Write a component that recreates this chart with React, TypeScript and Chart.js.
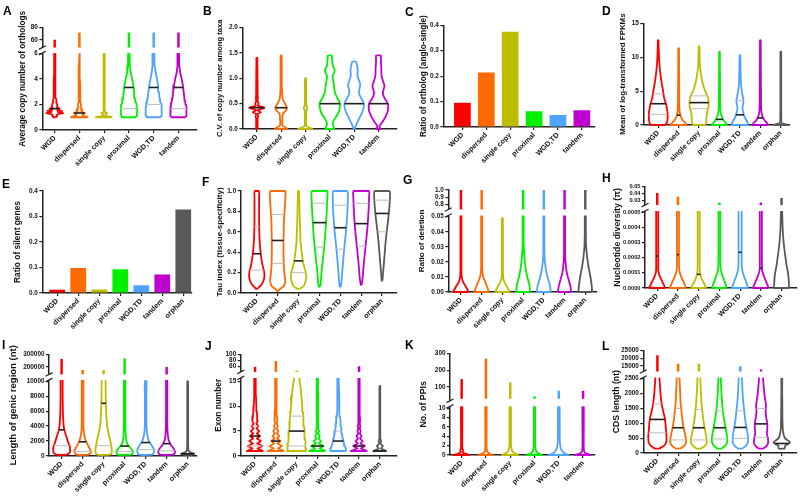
import React, { useEffect, useRef } from "react";
import { Chart, registerables } from "chart.js";

Chart.register(...registerables);

const FONT = "'Liberation Sans', Arial, Helvetica, sans-serif";
Chart.defaults.font.family = FONT;
Chart.defaults.color = "#111";

// ---------------- categories & colours ----------------
const CATEGORIES = ["WGD", "dispersed", "single copy", "proximal", "WGD,TD", "tandem", "orphan"];
const COLORS = ["#FF0000", "#FF6A00", "#BDBD00", "#00F000", "#4FA3FF", "#C000D0", "#595959"];

// ---------------- C: bar ----------------
const C_RATIO = [0.095, 0.214, 0.375, 0.062, 0.047, 0.066];
const C_TICKS = [0, 0.1, 0.2, 0.3, 0.4];

// ---------------- E: bar ----------------
const E_SILENT = [0.013, 0.098, 0.014, 0.093, 0.03, 0.073, 0.327];
const E_TICKS = [0, 0.1, 0.2, 0.3, 0.4];

// ---------------- A ----------------
const A_TICKS = [0, 2, 4, 6];
const A_TOP_TICKS = [60, 80];
const A_LEVELS = [1.0, 1.1, 1.17, 1.25, 1.33, 1.42, 1.5, 1.58, 1.67, 1.75, 1.83, 2.0, 2.17, 2.33, 2.5, 3.0, 3.5, 4.0, 4.5, 5.0, 6.22];
const A_WIDTHS = [
  [0.06, 0.1, 0.08, 0.15, 0.34, 0.12, 0.3, 0.1, 0.2, 0.08, 0.12, 0.1, 0.06, 0.07, 0.05, 0.04, 0.03, 0.03, 0.025, 0.02, 0.015],
  [0.34, 0.15, 0.12, 0.18, 0.22, 0.08, 0.12, 0.06, 0.1, 0.05, 0.05, 0.07, 0.04, 0.05, 0.035, 0.03, 0.025, 0.02, 0.02, 0.02, 0.015],
  [0.33, 0.04, 0.04, 0.05, 0.12, 0.03, 0.03, 0.025, 0.03, 0.02, 0.02, 0.025, 0.02, 0.02, 0.02, 0.02, 0.02, 0.02, 0.02, 0.02, 0.015],
  [0.28, 0.31, 0.32, 0.32, 0.33, 0.33, 0.33, 0.33, 0.32, 0.32, 0.31, 0.3, 0.28, 0.26, 0.24, 0.21, 0.18, 0.13, 0.07, 0.04, 0.03],
  [0.28, 0.31, 0.32, 0.32, 0.33, 0.33, 0.33, 0.33, 0.32, 0.32, 0.31, 0.3, 0.28, 0.26, 0.24, 0.21, 0.18, 0.13, 0.08, 0.05, 0.03],
  [0.28, 0.31, 0.32, 0.32, 0.33, 0.33, 0.33, 0.33, 0.32, 0.32, 0.31, 0.3, 0.28, 0.26, 0.24, 0.21, 0.18, 0.13, 0.07, 0.04, 0.03],
];
const A_MEDIAN = [1.67, 1.33, null, 3.33, 3.33, 3.33];
const A_Q1 = [null, null, null, 1.67, 2.0, 1.67];
const A_Q3 = [null, null, null, null, null, null];
const A_TOP = [[42, 60], [42, 72], null, [42, 72], [42, 72], [42, 72]];

// ---------------- B ----------------
const B_TICKS = [0, 0.5, 1, 1.5, 2];
const B_LEVELS = [0, 0.03, 0.06, 0.1, 0.15, 0.2, 0.25, 0.3, 0.33, 0.37, 0.42, 0.46, 0.5, 0.55, 0.6, 0.7, 0.8, 0.85, 0.9, 1.0, 1.05, 1.1, 1.17, 1.25, 1.33, 1.4, 1.45];
const B_WIDTHS = [
  [0.03, 0.03, 0.03, 0.03, 0.03, 0.03, 0.05, 0.03, 0.17, 0.03, 0.32, 0.04, 0.07, 0.03, 0.04, 0.03, 0.03, 0.03, 0.03, 0.025, 0.025, 0.025, 0.025, 0.02, 0.02, 0.02, null],
  [0.26, 0.18, 0.06, 0.04, 0.04, 0.05, 0.05, 0.07, 0.12, 0.2, 0.24, 0.2, 0.16, 0.1, 0.06, 0.04, 0.03, 0.025, 0.025, 0.025, 0.025, 0.025, 0.025, 0.025, 0.025, 0.025, 0.02],
  [0.3, 0.15, 0.04, 0.025, 0.025, 0.025, 0.025, 0.025, 0.025, 0.04, 0.07, 0.04, 0.025, 0.025, 0.025, 0.025, 0.025, 0.025, 0.025, 0.02, null, null, null, null, null, null, null],
  [0.18, 0.17, 0.14, 0.12, 0.14, 0.2, 0.27, 0.33, 0.36, 0.39, 0.41, 0.42, 0.42, 0.38, 0.32, 0.22, 0.18, 0.17, 0.16, 0.12, 0.12, 0.17, 0.2, 0.12, 0.1, 0.09, 0.08],
  [0.02, 0.04, 0.07, 0.1, 0.15, 0.2, 0.25, 0.3, 0.33, 0.36, 0.39, 0.4, 0.4, 0.36, 0.3, 0.2, 0.22, 0.25, 0.24, 0.17, 0.14, 0.14, 0.15, 0.12, 0.08, null, null],
  [0.1, 0.05, 0.05, 0.1, 0.18, 0.24, 0.3, 0.34, 0.37, 0.39, 0.4, 0.4, 0.39, 0.33, 0.26, 0.18, 0.22, 0.25, 0.22, 0.15, 0.13, 0.12, 0.12, 0.11, 0.1, 0.1, 0.1],
];
const B_MEDIAN = [0.42, 0.42, null, 0.5, 0.5, 0.5];
const B_Q1 = [null, null, null, null, null, null];
const B_Q3 = [null, null, null, null, null, null];

// ---------------- D ----------------
const D_TICKS = [0, 5, 10, 15];
const D_LEVELS = [0, 0.3, 0.7, 1.0, 1.5, 2, 2.5, 3, 3.5, 4, 4.5, 5, 5.5, 6, 7, 8, 9, 10, 10.3, 10.8, 11.3, 11.6, 12.5];
const D_WIDTHS = [
  [0.35, 0.42, 0.45, 0.46, 0.46, 0.45, 0.42, 0.39, 0.34, 0.29, 0.26, 0.24, 0.21, 0.18, 0.13, 0.09, 0.06, 0.04, 0.035, 0.03, 0.025, 0.02, 0.015],
  [0.38, 0.33, 0.2, 0.14, 0.08, 0.05, 0.04, 0.035, 0.03, 0.03, 0.03, 0.03, 0.025, 0.025, 0.025, 0.02, 0.02, 0.02, 0.02, 0.02, 0.015, null, null],
  [0.3, 0.34, 0.36, 0.36, 0.37, 0.4, 0.45, 0.47, 0.47, 0.44, 0.38, 0.3, 0.24, 0.19, 0.12, 0.07, 0.04, 0.03, 0.03, 0.025, 0.02, 0.015, null],
  [0.37, 0.3, 0.2, 0.15, 0.08, 0.05, 0.04, 0.035, 0.03, 0.03, 0.03, 0.03, 0.025, 0.025, 0.025, 0.02, 0.02, 0.02, 0.02, 0.015, null, null, null],
  [0.38, 0.38, 0.32, 0.25, 0.2, 0.15, 0.12, 0.15, 0.17, 0.15, 0.12, 0.09, 0.07, 0.05, 0.04, 0.03, 0.025, 0.02, 0.015, null, null, null, null],
  [0.38, 0.32, 0.2, 0.14, 0.08, 0.05, 0.04, 0.035, 0.03, 0.03, 0.03, 0.03, 0.03, 0.025, 0.025, 0.025, 0.02, 0.02, 0.02, 0.02, 0.02, 0.02, 0.015],
  [0.35, 0.04, 0.025, 0.025, 0.025, 0.02, 0.02, 0.02, 0.02, 0.02, 0.02, 0.02, 0.02, 0.02, 0.02, 0.02, 0.02, 0.02, 0.02, 0.015, null, null, null],
];
const D_MEDIAN = [3.14, 1.45, 3.3, 0.83, 1.5, 1.05, null];
const D_Q1 = [1.58, null, 2.4, null, null, null, null];
const D_Q3 = [4.6, null, 4.3, null, 3.6, null, null];

// ---------------- F ----------------
const F_TICKS = [0, 0.2, 0.4, 0.6, 0.8, 1.0];
const F_LEVELS = [0.02, 0.04, 0.06, 0.08, 0.12, 0.15, 0.2, 0.25, 0.3, 0.4, 0.5, 0.6, 0.7, 0.8, 0.9, 0.95, 1.0];
const F_WIDTHS = [
  [null, 0.02, 0.12, 0.22, 0.32, 0.36, 0.36, 0.3, 0.25, 0.18, 0.14, 0.12, 0.11, 0.11, 0.11, 0.11, 0.1],
  [0.02, 0.12, 0.25, 0.32, 0.36, 0.35, 0.32, 0.3, 0.29, 0.28, 0.28, 0.29, 0.3, 0.33, 0.36, 0.37, 0.35],
  [null, 0.04, 0.2, 0.28, 0.34, 0.37, 0.35, 0.28, 0.22, 0.15, 0.1, 0.08, 0.06, 0.05, 0.04, 0.03, 0.02],
  [null, null, 0.02, 0.05, 0.07, 0.08, 0.1, 0.12, 0.15, 0.2, 0.25, 0.29, 0.32, 0.35, 0.37, 0.38, 0.36],
  [null, null, 0.02, 0.04, 0.06, 0.07, 0.09, 0.11, 0.13, 0.17, 0.22, 0.27, 0.31, 0.34, 0.36, 0.36, 0.33],
  [null, null, null, 0.02, 0.05, 0.07, 0.09, 0.11, 0.13, 0.18, 0.23, 0.28, 0.32, 0.35, 0.37, 0.38, 0.36],
  [null, null, null, null, 0.02, 0.03, 0.05, 0.07, 0.09, 0.13, 0.17, 0.22, 0.28, 0.33, 0.37, 0.38, 0.35],
];
const F_MEDIAN = [0.385, 0.515, 0.315, 0.69, 0.64, 0.68, 0.78];
const F_Q1 = [0.225, 0.29, 0.2, 0.45, 0.43, 0.46, 0.6];
const F_Q3 = [0.65, 0.77, 0.52, 0.88, 0.86, 0.88, 0.91];

// ---------------- G ----------------
const G_TICKS = [0, 0.01, 0.02, 0.03, 0.04, 0.05];
const G_TOP_TICKS = [0.8, 0.9, 1.0];
const G_LEVELS = [0, 0.002, 0.004, 0.006, 0.008, 0.01, 0.012, 0.015, 0.018, 0.02, 0.023, 0.027, 0.03, 0.035, 0.04, 0.049, 0.0528];
const G_WIDTHS = [
  [0.36, 0.3, 0.22, 0.13, 0.07, 0.04, 0.03, 0.025, 0.025, 0.025, 0.025, 0.025, 0.025, 0.025, 0.025, 0.025, 0.02],
  [0.34, 0.3, 0.25, 0.19, 0.13, 0.08, 0.05, 0.03, 0.025, 0.025, 0.025, 0.025, 0.025, 0.025, 0.025, 0.025, 0.02],
  [0.34, 0.28, 0.2, 0.12, 0.06, 0.04, 0.03, 0.025, 0.025, 0.025, 0.025, 0.025, 0.025, 0.025, 0.025, 0.02, null],
  [0.32, 0.32, 0.31, 0.28, 0.24, 0.2, 0.17, 0.13, 0.1, 0.08, 0.06, 0.04, 0.03, 0.025, 0.025, 0.025, 0.02],
  [0.32, 0.32, 0.3, 0.26, 0.22, 0.18, 0.14, 0.1, 0.07, 0.05, 0.035, 0.025, 0.025, 0.025, 0.025, 0.025, 0.02],
  [0.3, 0.3, 0.28, 0.24, 0.2, 0.16, 0.12, 0.08, 0.06, 0.045, 0.03, 0.025, 0.025, 0.025, 0.025, 0.025, 0.02],
  [0.32, 0.32, 0.31, 0.29, 0.27, 0.25, 0.22, 0.18, 0.14, 0.12, 0.09, 0.06, 0.04, 0.03, 0.025, 0.025, 0.02],
];
const G_NONE = [null, null, null, null, null, null, null];
const G_TOP = [[0.72, 1], [0.72, 1], null, [0.72, 1], [0.72, 1], [0.72, 1], [0.72, 1]];

// ---------------- H ----------------
const H_TICKS = [0, 0.0001, 0.0002, 0.0003, 0.0004, 0.0005];
const H_TOP_TICKS = [0.03, 0.04, 0.05];
const H_LEVELS = [0, 0.00002, 0.00004, 0.00006, 0.00008, 0.0001, 0.00012, 0.00015, 0.0002, 0.00025, 0.0003, 0.00035, 0.0004, 0.00045, 0.0005, 0.000526];
const H_WIDTHS = [
  [0.38, 0.32, 0.25, 0.18, 0.12, 0.07, 0.05, 0.05, 0.05, 0.05, 0.05, 0.05, 0.05, 0.05, 0.05, 0.05],
  [0.38, 0.33, 0.27, 0.2, 0.14, 0.09, 0.06, 0.05, 0.05, 0.05, 0.05, 0.05, 0.05, 0.05, 0.05, 0.05],
  [0.36, 0.3, 0.22, 0.15, 0.1, 0.07, 0.055, 0.05, 0.05, 0.05, 0.05, 0.05, 0.05, 0.05, 0.05, 0.05],
  [0.34, 0.31, 0.26, 0.2, 0.15, 0.1, 0.07, 0.05, 0.045, 0.045, 0.045, 0.045, 0.045, 0.045, 0.045, 0.045],
  [0.37, 0.34, 0.29, 0.24, 0.18, 0.13, 0.1, 0.08, 0.075, 0.075, 0.075, 0.075, 0.075, 0.075, 0.075, 0.075],
  [0.36, 0.32, 0.26, 0.2, 0.14, 0.09, 0.06, 0.05, 0.05, 0.05, 0.05, 0.05, 0.05, 0.05, 0.05, 0.05],
  [0.36, 0.36, 0.35, 0.34, 0.33, 0.31, 0.28, 0.24, 0.19, 0.14, 0.1, 0.07, 0.05, 0.04, 0.03, 0.03],
];
const H_MEDIAN = [0.00021, 0.00022, 0.00009, null, 0.000235, 0.00013, null];
const H_NONE = [null, null, null, null, null, null, null];
const H_TOP = [[0.02, 0.041], [0.02, 0.036], null, [0.02, 0.0275], null, [0.02, 0.0275], [0.02, 0.034]];

// ---------------- I ----------------
const I_TICKS = [0, 2000, 4000, 6000, 8000, 10000];
const I_TOP_TICKS = [200000, 300000];
const I_LEVELS = [0, 150, 300, 500, 700, 1000, 1200, 1400, 1700, 2000, 2500, 3000, 3500, 4000, 5000, 6000, 7000, 8000, 10000, 10507];
const I_WIDTHS = [
  [null, 0.2, 0.33, 0.39, 0.4, 0.4, 0.39, 0.37, 0.33, 0.29, 0.24, 0.18, 0.13, 0.1, 0.075, 0.06, 0.055, 0.05, 0.05, 0.05],
  [null, 0.22, 0.35, 0.39, 0.38, 0.34, 0.3, 0.26, 0.21, 0.16, 0.1, 0.07, 0.05, 0.04, 0.04, 0.04, 0.04, 0.04, 0.04, 0.04],
  [null, 0.25, 0.36, 0.39, 0.39, 0.38, 0.37, 0.36, 0.34, 0.32, 0.28, 0.24, 0.2, 0.17, 0.14, 0.12, 0.11, 0.1, 0.09, 0.09],
  [null, 0.25, 0.37, 0.39, 0.37, 0.3, 0.24, 0.18, 0.12, 0.09, 0.06, 0.05, 0.04, 0.04, 0.035, 0.035, 0.035, 0.035, 0.035, 0.035],
  [null, 0.25, 0.36, 0.39, 0.4, 0.38, 0.34, 0.29, 0.22, 0.16, 0.1, 0.07, 0.05, 0.04, 0.035, 0.035, 0.035, 0.035, 0.035, null],
  [null, 0.25, 0.37, 0.4, 0.38, 0.33, 0.28, 0.22, 0.16, 0.11, 0.07, 0.05, 0.04, 0.035, 0.03, 0.03, 0.03, 0.03, 0.03, 0.03],
  [null, 0.15, 0.32, 0.12, 0.05, 0.03, 0.025, 0.025, 0.02, 0.02, 0.02, 0.02, 0.02, 0.02, 0.02, 0.02, 0.02, 0.02, 0.015, null],
];
const I_MEDIAN = [3500, 1900, 7050, 1330, 1800, 1650, 300];
const I_Q1 = [1380, 600, 1380, 620, 850, 680, null];
const I_Q3 = [null, null, null, null, null, null, null];
const I_TOP = [[115000, 265000], [115000, 175000], [115000, 175000], [115000, 270000], null, [115000, 200000], null];

// ---------------- J ----------------
const J_TICKS = [0, 5, 10, 15];
const J_TOP_TICKS = [60, 80, 100];
const J_LEVELS = [1, 1.5, 2, 2.5, 3, 3.5, 4, 4.5, 5, 5.5, 6, 6.5, 7, 8, 9, 10, 12, 14, 16.26];
const J_WIDTHS = [
  [0.4, 0.12, 0.34, 0.1, 0.28, 0.09, 0.24, 0.08, 0.2, 0.07, 0.16, 0.06, 0.13, 0.1, 0.08, 0.06, 0.045, 0.035, 0.03],
  [0.4, 0.1, 0.3, 0.08, 0.22, 0.06, 0.16, 0.05, 0.12, 0.045, 0.09, 0.04, 0.07, 0.055, 0.045, 0.04, 0.035, 0.03, 0.03],
  [0.46, 0.44, 0.43, 0.42, 0.41, 0.4, 0.39, 0.38, 0.37, 0.36, 0.35, 0.34, 0.33, 0.31, 0.29, 0.27, 0.23, 0.18, 0.1],
  [0.4, 0.1, 0.3, 0.07, 0.18, 0.05, 0.11, 0.04, 0.08, 0.035, 0.06, 0.03, 0.045, 0.035, 0.03, 0.03, 0.03, 0.025, 0.025],
  [0.38, 0.36, 0.32, 0.28, 0.25, 0.22, 0.2, 0.18, 0.16, 0.14, 0.12, 0.11, 0.1, 0.08, 0.06, 0.05, 0.04, 0.03, 0.025],
  [0.4, 0.08, 0.28, 0.06, 0.17, 0.05, 0.12, 0.04, 0.08, 0.035, 0.06, 0.03, 0.05, 0.04, 0.035, 0.03, 0.03, 0.025, 0.025],
  [0.32, 0.05, 0.15, 0.03, 0.06, 0.02, 0.03, 0.02, 0.02, 0.02, 0.02, 0.02, 0.02, 0.02, 0.02, 0.02, 0.02, 0.015, null],
];
const J_MEDIAN = [4, 3, 5, 2, 3, 2, 1];
const J_Q1 = [2, null, 2, null, null, null, null];
const J_Q3 = [6, null, 8, null, 5, null, null];
const J_TOP = [[30, 58], [30, 78], [30, 45], null, null, [30, 60], null];

// ---------------- K ----------------
const K_TICKS = [0, 2, 4, 6, 8, 10];
const K_TOP_TICKS = [100, 200, 300];
const K_LEVELS = [0, 0.2, 0.4, 0.6, 0.8, 1.0, 1.2, 1.5, 2, 3, 10.93];
const K_WIDTHS = [
  [0.34, 0.2, 0.08, 0.04, 0.05, 0.06, 0.04, 0.03, 0.025, 0.025, 0.025],
  [0.3, 0.2, 0.12, 0.07, 0.05, 0.04, 0.035, 0.03, 0.025, 0.025, 0.025],
  [0.34, 0.25, 0.17, 0.12, 0.09, 0.07, 0.06, 0.045, 0.035, 0.03, 0.025],
  [0.33, 0.22, 0.14, 0.1, 0.07, 0.06, 0.05, 0.04, 0.03, 0.025, 0.02],
  [0.42, 0.3, 0.22, 0.18, 0.15, 0.12, 0.1, 0.08, 0.06, 0.04, 0.03],
  [0.34, 0.2, 0.1, 0.06, 0.045, 0.035, 0.03, 0.025, 0.025, 0.025, 0.025],
];
const K_NONE = [null, null, null, null, null, null];
const K_TOP = [[30, 148], [30, 270], [30, 128], [30, 45], [30, 78], [30, 78]];

// ---------------- L ----------------
const L_TICKS = [0, 500, 1000, 1500, 2000, 2500];
const L_TOP_TICKS = [15000, 20000, 25000];
const L_LEVELS = [150, 250, 350, 500, 650, 800, 1000, 1200, 1400, 1600, 1800, 2000, 2300, 2500, 2641];
const L_WIDTHS = [
  [0.1, 0.33, 0.42, 0.44, 0.43, 0.41, 0.39, 0.35, 0.28, 0.22, 0.18, 0.15, 0.12, 0.1, 0.09],
  [0.1, 0.3, 0.38, 0.37, 0.33, 0.28, 0.23, 0.19, 0.16, 0.13, 0.11, 0.1, 0.08, 0.07, 0.07],
  [0.1, 0.3, 0.38, 0.37, 0.33, 0.29, 0.24, 0.2, 0.17, 0.14, 0.12, 0.1, 0.08, 0.07, 0.07],
  [0.1, 0.28, 0.36, 0.37, 0.34, 0.3, 0.25, 0.2, 0.16, 0.13, 0.11, 0.09, 0.07, 0.06, 0.06],
  [0.1, 0.28, 0.36, 0.37, 0.35, 0.31, 0.26, 0.22, 0.19, 0.16, 0.13, 0.11, 0.09, 0.08, 0.08],
  [0.1, 0.28, 0.34, 0.33, 0.28, 0.3, 0.3, 0.25, 0.22, 0.24, 0.2, 0.16, 0.12, 0.1, 0.1],
  [0.15, 0.17, 0.4, 0.15, 0.08, 0.05, 0.04, 0.03, 0.03, 0.025, 0.025, 0.02, 0.02, 0.02, null],
];
const L_MEDIAN = [1130, 850, 850, 850, 860, 980, 320];
const L_Q1 = [680, 440, 440, 470, 490, 530, null];
const L_Q3 = [1650, 1500, 1460, 1420, 1420, 1500, null];
const L_TOP = [[9600, 21800], [9600, 16500], [9600, 16500], null, [9600, 14800], [9600, 12800], null];

// ---------------- layout of the 12 panels ----------------
const PANELS: any[] = [
  { letter: "A", lx: 3, ly: 15, cell: [0, 0], axisX: 42.3, top: 27.7, bottom: 129.7, right: 197, titleCX: 23, title: "Average copy number of orthologs", titleSize: 8.2, n: 6, xr: [-0.5, 5.75],
    y: { min: 0, max: 6.22, ticks: A_TICKS, dec: 0 }, brk: { at: 50.5, min: 42, max: 80, ticks: A_TOP_TICKS, dec: 0, above: 3, below: 2.5 },
    violin: { levels: A_LEVELS, widths: A_WIDTHS, median: A_MEDIAN, q1: A_Q1, q3: A_Q3, top: A_TOP, tension: 0 } },
  { letter: "B", lx: 203, ly: 15, cell: [200, 0], axisX: 242.3, top: 27.7, bottom: 129, right: 396.7, titleCX: 220, title: "C.V. of copy number among taxa", titleSize: 7.6, n: 6, xr: [-0.6, 5.75],
    y: { min: 0, max: 2, ticks: B_TICKS, dec: 1 },
    violin: { levels: B_LEVELS, widths: B_WIDTHS, median: B_MEDIAN, q1: B_Q1, q3: B_Q3, tension: 0.15 } },
  { letter: "C", lx: 405, ly: 16, cell: [400, 0], axisX: 443.3, top: 25.3, bottom: 127, right: 595, titleCX: 424, title: "Ratio of ortholog (anglo-single)", titleSize: 8.2, n: 6, xr: [-0.8, 5.55],
    y: { min: 0, max: 0.4, ticks: C_TICKS, dec: 1 }, bars: { values: C_RATIO, pct: 0.7 } },
  { letter: "D", lx: 602, ly: 15, cell: [600, 0], axisX: 643.3, top: 23.3, bottom: 125, right: 790, titleCX: 623.3, title: "Mean of log-transformed FPKMs", titleSize: 7.9, n: 7, xr: [-0.73, 6.45],
    y: { min: 0, max: 15, ticks: D_TICKS, dec: 0 },
    violin: { levels: D_LEVELS, widths: D_WIDTHS, median: D_MEDIAN, q1: D_Q1, q3: D_Q3, tension: 0.3 } },
  { letter: "E", lx: 2, ly: 188, cell: [0, 166], axisX: 42.3, top: 191, bottom: 292.7, right: 191.7, titleCX: 17.3, title: "Ratio of silent genes", titleSize: 8.4, n: 7, xr: [-0.71, 6.4],
    y: { min: 0, max: 0.4, ticks: E_TICKS, dec: 1 }, bars: { values: E_SILENT, pct: 0.75 } },
  { letter: "F", lx: 202, ly: 186, cell: [200, 166], axisX: 240.7, top: 191, bottom: 292.7, right: 396.7, titleCX: 220, title: "Tau index (tissue-specificity)", titleSize: 8, n: 7, xr: [-0.77, 6.7],
    y: { min: 0, max: 1, ticks: F_TICKS, dec: 1 },
    violin: { levels: F_LEVELS, widths: F_WIDTHS, median: F_MEDIAN, q1: F_Q1, q3: F_Q3, tension: 0.3 } },
  { letter: "G", lx: 403, ly: 184, cell: [400, 166], axisX: 448.3, top: 190, bottom: 292, right: 596.7, titleCX: 421.7, title: "Ratio of deletion", titleSize: 8, n: 7, xr: [-0.61, 6.55],
    y: { min: 0, max: 0.0528, ticks: G_TICKS, dec: 2 }, brk: { at: 212.5, min: 0.694, max: 1.0, ticks: G_TOP_TICKS, dec: 1, above: 3, below: 3 },
    violin: { levels: G_LEVELS, widths: G_WIDTHS, median: G_NONE, q1: G_NONE, q3: G_NONE, top: G_TOP, tension: 0.3 } },
  { letter: "H", lx: 602, ly: 182, cell: [600, 166], axisX: 645, top: 186.7, bottom: 287.7, right: 796.7, titleCX: 617.3, title: "Nucleotide diversity (π)", titleSize: 8.8, n: 7, xr: [-0.59, 6.73], tickSize: 5.7,
    y: { min: 0, max: 0.000526, ticks: H_TICKS, dec: 4 }, brk: { at: 208, min: 0.0196, max: 0.05, ticks: H_TOP_TICKS, dec: 2, above: 3, below: 3 },
    violin: { levels: H_LEVELS, widths: H_WIDTHS, median: H_MEDIAN, q1: H_NONE, q3: H_NONE, top: H_TOP, tension: 0.3 } },
  { letter: "I", lx: 2, ly: 349, cell: [0, 332], axisX: 49, top: 354.7, bottom: 456.3, right: 196.7, titleCX: 13.3, title: "Length of genic region (nt)", titleSize: 9.5, n: 7, xr: [-0.6, 6.43],
    y: { min: 0, max: 10507, ticks: I_TICKS, dec: 0 }, brk: { at: 377.5, min: 115000, max: 300000, ticks: I_TOP_TICKS, dec: 0, above: 3, below: 2.5 },
    violin: { levels: I_LEVELS, widths: I_WIDTHS, median: I_MEDIAN, q1: I_Q1, q3: I_Q3, top: I_TOP, tension: 0.3 } },
  { letter: "J", lx: 205, ly: 350, cell: [200, 332], axisX: 240.7, top: 354.7, bottom: 456.3, right: 396.7, titleCX: 218.3, title: "Exon number", titleSize: 8.3, n: 7, xr: [-0.69, 6.81],
    y: { min: 0, max: 16.26, ticks: J_TICKS, dec: 0 }, brk: { at: 375, min: 30, max: 100, ticks: J_TOP_TICKS, dec: 0, above: 3, below: 3 },
    violin: { levels: J_LEVELS, widths: J_WIDTHS, median: J_MEDIAN, q1: J_Q1, q3: J_Q3, top: J_TOP, tension: 0 } },
  { letter: "K", lx: 405, ly: 349, cell: [400, 332], axisX: 450, top: 353.7, bottom: 454.7, right: 595, titleCX: 423.3, title: "No. of PPIs", titleSize: 8.8, n: 6, xr: [-0.48, 5.49],
    y: { min: 0, max: 10.93, ticks: K_TICKS, dec: 0 }, brk: { at: 403.65, min: 0, max: 300, ticks: K_TOP_TICKS, dec: 0, above: 3, below: 2.5 },
    violin: { levels: K_LEVELS, widths: K_WIDTHS, median: K_NONE, q1: K_NONE, q3: K_NONE, top: K_TOP, tension: 0.2 } },
  { letter: "L", lx: 602, ly: 350, cell: [600, 332], axisX: 643.3, top: 350.3, bottom: 453, right: 796.7, titleCX: 616.7, title: "CDS length (nt)", titleSize: 8.7, n: 7, xr: [-0.68, 6.72],
    y: { min: 0, max: 2641, ticks: L_TICKS, dec: 0 }, brk: { at: 374.5, min: 9586, max: 25000, ticks: L_TOP_TICKS, dec: 0, above: 3, below: 3 },
    violin: { levels: L_LEVELS, widths: L_WIDTHS, median: L_MEDIAN, q1: L_Q1, q3: L_Q3, top: L_TOP, tension: 0.3 } },
];

const X_AXIS_H = 50;
const AXIS_COLOR = "#222";
const CANVAS_W = 200;
const VIOLIN_LW = 1.8;

function widthAt(levels: number[], w: (number | null)[], y: number): number {
  for (let k = 0; k < levels.length - 1; k++) {
    const a = w[k];
    const b = w[k + 1];
    if (a == null || b == null) continue;
    if (y >= levels[k] && y <= levels[k + 1]) {
      const t = (y - levels[k]) / (levels[k + 1] - levels[k]);
      return a + (b - a) * t;
    }
  }
  return 0;
}

function outline(levels: number[], w: (number | null)[], i: number) {
  const ks = levels.map((_, k) => k).filter((k) => w[k] != null);
  const right = ks.map((k) => ({ x: i + (w[k] as number), y: levels[k] }));
  const left = ks.slice().reverse().map((k) => ({ x: i - (w[k] as number), y: levels[k] }));
  return [...right, ...left, right[0]];
}

function lineDs(data: any[], color: string, width: number, axis: string, tension: number, order: number) {
  return {
    type: "line",
    data,
    borderColor: color,
    borderWidth: width,
    pointRadius: 0,
    pointHoverRadius: 0,
    fill: false,
    tension,
    yAxisID: axis,
    xAxisID: "x",
    order,
    clip: false,
    borderJoinStyle: "round",
  };
}

const breakPlugin = {
  id: "axisBreak",
  afterDatasetsDraw(chart: any, _args: any, opts: any) {
    if (!opts || !opts.on) return;
    const ca = chart.chartArea;
    const B = chart.scales.y.top;
    const ctx = chart.ctx;
    ctx.save();
    ctx.fillStyle = "#ffffff";
    ctx.fillRect(ca.left - 5, B - opts.above, ca.right - ca.left + 7, opts.above + opts.below);
    ctx.strokeStyle = AXIS_COLOR;
    ctx.lineWidth = 1.2;
    [B - opts.above, B + opts.below].forEach((yy: number) => {
      ctx.beginPath();
      ctx.moveTo(ca.left - 3.5, yy + 1.8);
      ctx.lineTo(ca.left + 3.5, yy - 1.8);
      ctx.stroke();
    });
    ctx.restore();
  },
};

function valueAxis(a: any, tickSize: number, dataW: number, extra: any) {
  return {
    type: "linear",
    position: "left",
    min: a.min,
    max: a.max,
    afterBuildTicks: (s: any) => {
      s.ticks = a.ticks.map((value: number) => ({ value }));
    },
    afterFit: (s: any) => {
      s.width = dataW;
    },
    ticks: {
      autoSkip: false,
      padding: 1.5,
      font: { size: tickSize, weight: "bold" },
      color: "#111",
      callback: (v: any) => Number(v).toFixed(a.dec),
    },
    grid: { display: true, drawOnChartArea: false, drawTicks: true, tickLength: 3, color: AXIS_COLOR, lineWidth: 1.2 },
    border: { display: true, color: AXIS_COLOR, width: 1.5 },
    ...extra,
  };
}

function buildConfig(p: any) {
  const cats = CATEGORIES.slice(0, p.n);
  const datasets: any[] = [];
  if (p.bars) {
    datasets.push({
      type: "bar",
      data: p.bars.values.map((v: number, i: number) => ({ x: i, y: v })),
      backgroundColor: COLORS.slice(0, p.n),
      borderWidth: 0,
      categoryPercentage: 1,
      barPercentage: p.bars.pct,
      yAxisID: "y",
      xAxisID: "x",
    });
  }
  if (p.violin) {
    const v = p.violin;
    for (let i = 0; i < p.n; i++) {
      const w = v.widths[i];
      datasets.push(lineDs(outline(v.levels, w, i), COLORS[i], VIOLIN_LW, "y", v.tension, 3));
      const stat = (val: number | null, color: string, lw: number, order: number) => {
        if (val == null) return;
        const hw = widthAt(v.levels, w, val);
        datasets.push(lineDs([{ x: i - hw, y: val }, { x: i + hw, y: val }], color, lw, "y", 0, order));
      };
      stat(v.q1[i], "#bdbdbd", 1, 1);
      stat(v.q3[i], "#bdbdbd", 1, 1);
      stat(v.median[i], "#1e1e1e", 1.6, 0);
      const seg = v.top ? v.top[i] : null;
      if (seg) datasets.push(lineDs([{ x: i, y: seg[0] }, { x: i, y: seg[1] }], COLORS[i], 2.5, "yTop", 0, 2));
    }
  }

  const tickSize = p.tickSize || 6.4;
  const titleW = p.titleCX - p.cell[0] + 0.55 * p.titleSize;
  const dataW = p.axisX - p.cell[0] - titleW;
  const scales: any = {
    yTitle: {
      type: "linear",
      position: "left",
      weight: 10,
      display: true,
      ticks: { display: false },
      grid: { display: false, drawTicks: false },
      border: { display: false },
      title: {
        display: true,
        text: p.title,
        color: "#111",
        font: { size: p.titleSize, weight: "bold" },
        padding: { top: p.titleCX - p.cell[0] - 0.6 * p.titleSize, bottom: 0 },
      },
      afterFit: (s: any) => {
        s.width = titleW;
      },
    },
  };
  if (p.brk) {
    scales.yTop = valueAxis(p.brk, tickSize, dataW, { weight: 5, stack: "v", stackWeight: p.brk.at - p.top });
    scales.y = valueAxis(p.y, tickSize, dataW, { weight: 0, stack: "v", stackWeight: p.bottom - p.brk.at });
  } else {
    scales.y = valueAxis(p.y, tickSize, dataW, { weight: 0 });
  }
  scales.x = {
    type: "linear",
    position: "bottom",
    min: p.xr[0],
    max: p.xr[1],
    offset: false,
    afterBuildTicks: (s: any) => {
      s.ticks = cats.map((_, i) => ({ value: i }));
    },
    afterFit: (s: any) => {
      s.height = X_AXIS_H;
    },
    ticks: {
      autoSkip: false,
      minRotation: 45,
      maxRotation: 45,
      padding: 1,
      font: { size: 7.2, weight: "bold" },
      color: "#111",
      callback: (val: any) => cats[Math.round(Number(val))] ?? "",
    },
    grid: { display: true, offset: false, drawOnChartArea: false, drawTicks: true, tickLength: 3, color: AXIS_COLOR, lineWidth: 1.2 },
    border: { display: true, color: AXIS_COLOR, width: 1.5 },
  };

  return {
    type: "line",
    data: { datasets },
    plugins: [breakPlugin],
    options: {
      responsive: false,
      animation: false,
      devicePixelRatio: 1,
      events: [],
      layout: {
        padding: {
          top: p.top - p.cell[1],
          right: p.cell[0] + CANVAS_W - p.right,
          bottom: 0,
          left: 0,
        },
      },
      plugins: {
        legend: { display: false },
        tooltip: { enabled: false },
        axisBreak: p.brk ? { on: true, above: p.brk.above, below: p.brk.below } : { on: false },
      },
      scales,
    },
  };
}

function PanelChart({ p }: { p: any }) {
  const ref = useRef<HTMLCanvasElement | null>(null);
  const h = Math.round(p.bottom - p.cell[1] + X_AXIS_H);
  useEffect(() => {
    if (!ref.current) return;
    const chart = new Chart(ref.current, buildConfig(p) as any);
    return () => chart.destroy();
  }, []);
  return (
    <canvas
      ref={ref}
      width={CANVAS_W}
      height={h}
      style={{ position: "absolute", left: p.cell[0], top: p.cell[1], width: CANVAS_W, height: h }}
    />
  );
}

export default function App() {
  return (
    <div
      style={{
        position: "fixed",
        left: 0,
        top: 0,
        width: 800,
        height: 498,
        overflow: "hidden",
        background: "#ffffff",
      }}
    >
      {PANELS.map((p) => (
        <PanelChart key={p.letter} p={p} />
      ))}
      {PANELS.map((p) => (
        <div
          key={"lbl" + p.letter}
          style={{
            position: "absolute",
            left: p.lx,
            top: p.ly - 10.2,
            fontFamily: FONT,
            fontWeight: "bold",
            fontSize: 12,
            lineHeight: "12px",
            color: "#000",
          }}
        >
          {p.letter}
        </div>
      ))}
    </div>
  );
}
